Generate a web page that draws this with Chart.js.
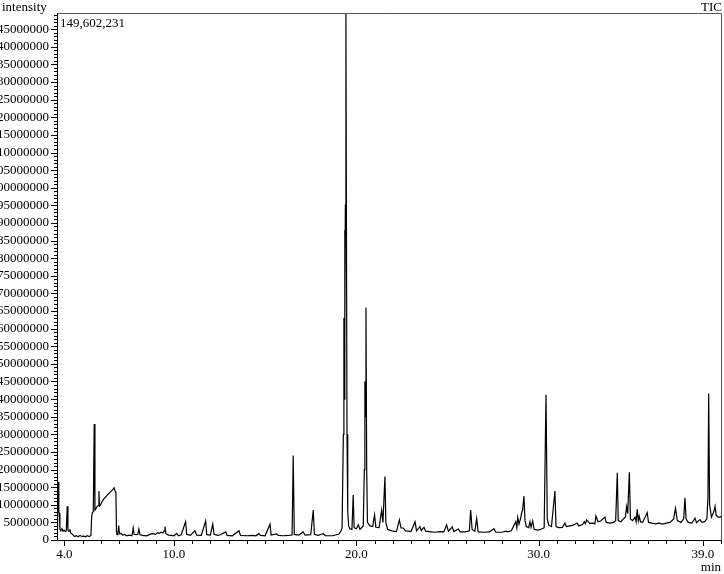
<!DOCTYPE html>
<html><head><meta charset="utf-8">
<script src="https://cdn.jsdelivr.net/npm/chart.js@4.4.1/dist/chart.umd.min.js"></script>
<style>html,body{margin:0;padding:0;background:#fff;overflow:hidden}#wrap{width:724px;height:574px;position:relative}</style>
</head><body><div id="wrap"><canvas id="c" width="724" height="574"></canvas></div>
<script>
const traceName = 'TIC';
const yAxisTitle = 'intensity';
const xAxisTitle = 'min';
const maxIntensityLabel = '149,602,231';
const yMax = 149602231;
const xMin = 3.59;
const xMax = 40.05;

const retentionTimes = [
 3.59,3.62,3.66,3.69,3.72,3.75,3.80,3.86,3.92,3.98,
 4.05,4.10,4.15,4.19,4.24,4.30,4.34,4.40,4.48,4.55,
 4.65,4.75,4.85,4.95,5.05,5.15,5.25,5.35,5.45,5.49,
 5.53,5.58,5.63,5.67,5.72,5.78,5.85,5.89,5.92,5.98,
 6.05,6.15,6.25,6.35,6.45,6.55,6.65,6.72,6.78,6.82,
 6.85,6.88,6.93,6.97,7.02,7.10,7.20,7.30,7.40,7.50,
 7.60,7.70,7.77,7.82,7.92,8.02,8.08,8.14,8.30,8.50,
 8.69,8.80,9.00,9.10,9.20,9.30,9.40,9.46,9.51,9.56,
 9.70,9.85,10.00,10.15,10.25,10.40,10.64,10.70,10.90,11.15,
 11.25,11.50,11.74,11.80,12.00,12.13,12.20,12.40,12.55,12.84,
 12.92,13.20,13.57,13.65,14.00,14.30,14.50,14.66,14.75,15.00,
 15.27,15.33,15.63,15.72,16.00,16.30,16.48,16.54,16.60,16.85,
 17.08,17.20,17.50,17.64,17.70,17.90,18.19,18.30,18.70,19.05,
 19.15,19.22,19.29,19.32,19.34,19.36,19.38,19.40,19.43,19.46,
 19.49,19.53,19.58,19.65,19.76,19.83,19.88,20.00,20.11,20.20,
 20.38,20.44,20.47,20.50,20.53,20.57,20.61,20.75,20.90,21.00,
 21.07,21.25,21.39,21.46,21.57,21.62,21.72,21.84,22.00,22.20,
 22.36,22.45,22.57,22.70,22.85,23.00,23.22,23.30,23.49,23.56,
 23.71,23.80,24.00,24.30,24.60,24.80,24.95,25.05,25.26,25.35,
 25.59,25.70,26.00,26.20,26.27,26.35,26.50,26.60,26.68,27.00,
 27.30,27.55,27.65,28.00,28.21,28.30,28.50,28.74,28.80,28.85,
 28.92,29.00,29.07,29.12,29.19,29.25,29.32,29.45,29.52,29.58,
 29.67,29.75,29.95,30.10,30.30,30.40,30.47,30.55,30.70,30.89,
 30.95,31.10,31.30,31.44,31.52,31.70,31.90,32.10,32.20,32.40,
 32.50,32.56,32.63,32.80,33.00,33.08,33.14,33.25,33.40,33.63,
 33.70,33.90,34.10,34.22,34.31,34.36,34.50,34.65,34.75,34.82,
 34.88,34.97,35.03,35.15,35.28,35.34,35.40,35.46,35.51,35.58,
 35.70,35.95,36.02,36.20,36.40,36.60,36.80,37.00,37.20,37.40,
 37.50,37.60,37.80,37.95,38.02,38.08,38.20,38.40,38.57,38.65,
 38.84,38.95,39.10,39.22,39.28,39.32,39.37,39.47,39.60,39.67,
 39.73,39.85,39.94,40.05
];
const intensities = [
 3000000,5000000,16500000,8000000,7600000,3000000,2600000,3200000,2500000,2800000,
 2400000,2600000,9600000,2800000,2500000,2900000,2000000,1800000,1400000,1000000,
 1200000,900000,1300000,1000000,1100000,900000,1200000,1000000,1300000,6500000,
 7800000,8000000,32900000,8500000,8800000,9500000,9800000,13900000,9600000,10000000,
 10800000,11600000,12200000,12800000,13300000,13800000,14300000,14800000,13800000,13300000,
 2500000,1500000,1600000,4100000,1800000,1900000,1400000,1600000,1200000,1300000,
 1400000,1200000,3400000,1600000,1500000,1600000,3100000,1500000,1300000,1200000,
 1600000,1800000,1600000,2100000,1900000,2200000,2000000,2500000,3800000,1800000,
 1400000,1300000,1200000,1900000,1200000,1500000,5200000,1600000,1300000,2600000,
 1400000,1300000,5400000,1500000,1400000,4500000,1600000,1300000,1500000,2300000,
 1300000,1200000,2600000,1300000,1200000,1300000,1200000,1800000,1300000,1200000,
 4500000,1400000,1700000,1300000,1200000,1300000,1400000,24000000,1600000,1400000,
 2300000,1400000,1500000,8500000,1600000,1300000,1800000,1200000,1200000,1700000,
 2500000,3400000,30000000,63000000,40000000,88000000,60000000,95000000,149602231,86000000,
 30000000,8000000,4000000,3200000,3000000,12800000,3500000,3200000,4300000,3000000,
 4000000,20000000,45000000,35000000,66000000,20000000,5000000,4000000,3800000,7100000,
 3600000,3500000,8500000,5000000,18000000,5000000,3000000,2800000,2500000,2400000,
 5700000,3400000,3400000,2600000,2500000,2400000,5200000,2600000,3800000,2700000,
 3600000,2500000,2400000,2200000,2400000,2300000,4300000,2500000,3700000,2400000,
 3100000,2300000,2300000,2600000,8500000,3000000,2500000,6100000,2300000,2200000,
 2300000,3200000,2200000,2200000,2500000,2300000,2600000,5200000,3500000,6400000,
 4500000,6000000,7800000,8500000,12500000,5500000,3800000,3500000,5200000,3600000,
 5400000,3000000,2800000,3000000,3500000,41200000,6000000,4200000,3800000,13900000,
 3800000,3500000,3600000,4800000,3800000,4000000,4200000,4800000,4000000,4400000,
 5200000,4600000,5700000,4700000,4800000,4600000,6800000,5200000,5400000,6500000,
 5000000,4800000,5000000,5500000,19100000,5500000,5200000,6000000,6500000,9500000,
 7500000,19200000,6000000,5500000,6500000,5200000,8700000,5500000,6800000,5200000,
 5000000,7800000,5000000,4800000,4600000,4800000,4500000,4800000,5000000,6000000,
 9000000,5500000,5000000,6000000,12000000,6000000,5000000,4800000,6200000,4900000,
 5800000,5000000,5200000,6000000,12000000,41600000,10000000,6500000,8000000,9600000,
 7000000,6500000,6500000,7000000
];

const yTickValues = [
 0,5000000,10000000,15000000,20000000,25000000,30000000,35000000,40000000,45000000,
 50000000,55000000,60000000,65000000,70000000,75000000,80000000,85000000,90000000,95000000,
 100000000,105000000,110000000,115000000,120000000,125000000,130000000,135000000,140000000,145000000
];
const yMinorStep = 1000000;
const xTickValues = [4,5,6,7,8,9,10,11,12,13,14,15,16,17,18,19,20,21,22,23,24,25,26,27,28,29,30,31,32,33,34,35,36,37,38,39,40];
const xLabeledTicks = [4, 10, 20, 30, 39];

const FONT = "'Liberation Serif','Times New Roman',serif";

const decor = {
  id: 'decor',
  afterDraw(chart) {
    const {ctx, chartArea: a, scales: {x, y}} = chart;
    ctx.save();
    ctx.lineWidth = 1;
    ctx.strokeStyle = '#555';
    ctx.beginPath();
    ctx.moveTo(a.left, a.top + 0.5); ctx.lineTo(a.right - 0.5, a.top + 0.5); ctx.lineTo(a.right - 0.5, a.bottom);
    ctx.stroke();
    ctx.strokeStyle = '#000';
    ctx.beginPath();
    ctx.moveTo(a.left + 0.5, a.top); ctx.lineTo(a.left + 0.5, a.bottom + 0.5); ctx.lineTo(a.right, a.bottom + 0.5);
    ctx.stroke();
    ctx.beginPath();
    for (let v = 0; v <= yMax; v += yMinorStep) {
      const py = Math.round(y.getPixelForValue(v)) + 0.5;
      const major = yTickValues.includes(v);
      ctx.moveTo(a.left, py); ctx.lineTo(a.left - (major ? 6 : 3), py);
    }
    xTickValues.forEach(v => {
      const px = Math.round(x.getPixelForValue(v)) + 0.5;
      const major = xLabeledTicks.includes(v);
      ctx.moveTo(px, a.bottom); ctx.lineTo(px, a.bottom + (major ? 6 : 4));
    });
    ctx.stroke();
    ctx.fillStyle = '#000';
    ctx.font = '13px ' + FONT;
    ctx.textBaseline = 'alphabetic';
    ctx.textAlign = 'left';
    ctx.fillText(yAxisTitle, 2, 11);
    ctx.fillText(maxIntensityLabel, a.left + 3, 27);
    ctx.textAlign = 'right';
    ctx.fillText(traceName, 722, 11);
    ctx.fillText(xAxisTitle, 721, 571);
    ctx.restore();
  }
};

new Chart(document.getElementById('c'), {
  type: 'line',
  data: {
    datasets: [{
      label: traceName,
      data: retentionTimes.map((t, i) => ({x: t, y: intensities[i]})),
      borderColor: '#000',
      borderWidth: 1.2,
      pointRadius: 0,
      tension: 0,
      fill: false
    }]
  },
  options: {
    responsive: false,
    animation: false,
    devicePixelRatio: 1,
    layout: {padding: {top: 13, right: 2, left: 0, bottom: 0}},
    plugins: {legend: {display: false}, tooltip: {enabled: false}},
    scales: {
      x: {
        type: 'linear', min: xMin, max: xMax,
        grid: {display: false, drawTicks: false}, border: {display: false},
        afterBuildTicks: s => { s.ticks = xTickValues.map(v => ({value: v})); },
        afterFit: s => { s.height = 34; s.paddingLeft = 0; s.paddingRight = 0; },
        ticks: {autoSkip: false, maxRotation: 0, padding: 7, color: '#000',
          font: {family: FONT, size: 13},
          callback: v => xLabeledTicks.includes(v) ? v.toFixed(1) : ''}
      },
      y: {
        type: 'linear', min: 0, max: yMax,
        grid: {display: false, drawTicks: false}, border: {display: false},
        afterBuildTicks: s => { s.ticks = yTickValues.map(v => ({value: v})); },
        afterFit: s => { s.width = 57; s.paddingTop = 0; s.paddingBottom = 0; },
        ticks: {autoSkip: false, padding: 8, color: '#000',
          font: {family: FONT, size: 13},
          callback: v => String(v)}
      }
    }
  },
  plugins: [decor]
});
</script>
</body></html>
